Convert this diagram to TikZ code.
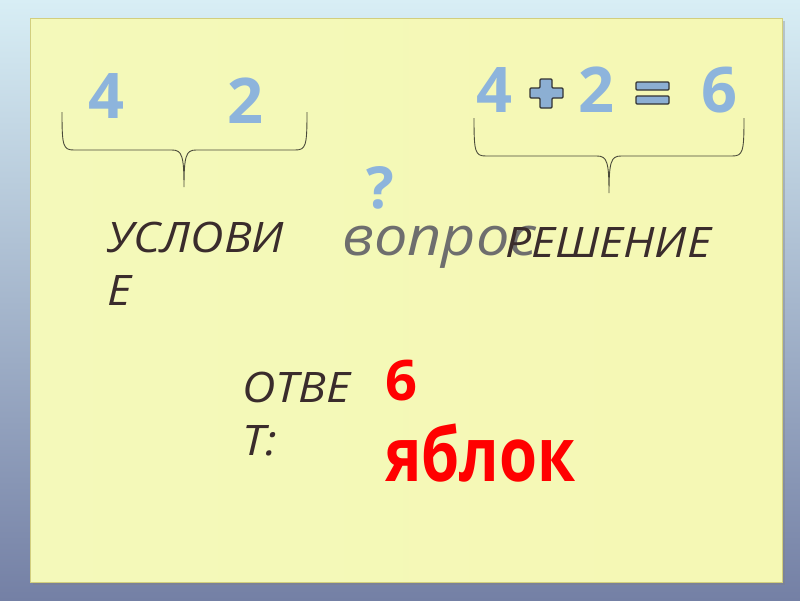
\documentclass[tikz,border=0pt]{standalone}
\usepackage{fontspec}
\setmainfont{Open Sans}
\newfontfamily\widefont[FakeStretch=1.1]{Open Sans}
\newfontfamily\narrowfont[FakeStretch=0.82]{Open Sans}
\usetikzlibrary{positioning}
\definecolor{digitblue}{RGB}{141,180,220}
\definecolor{inkbrown}{RGB}{58,44,44}
\definecolor{braceink}{RGB}{74,74,58}
\definecolor{askgray}{RGB}{110,110,110}
\definecolor{panelyellow}{RGB}{249,249,146}
\definecolor{panelleft}{RGB}{244,249,186}
\definecolor{panelright}{RGB}{245,248,180}
\definecolor{skytop}{RGB}{216,238,245}
\definecolor{skymid}{RGB}{180,212,226}
\definecolor{skybottom}{RGB}{116,128,165}
\tikzstyle{digit}=[inner sep=0pt, anchor=base, text=digitblue, font=\bfseries\fontsize{63}{63}\selectfont]
\tikzstyle{word}=[inner sep=0pt, anchor=base west, text=inkbrown, font=\widefont\itshape\fontsize{42}{42}\selectfont]
\tikzstyle{answer}=[inner sep=0pt, anchor=base west, text=red, font=\bfseries\fontsize{56}{56}\selectfont]
\tikzstyle{brace}=[draw=braceink, line width=0.9pt]
\tikzstyle{sign}=[fill=digitblue!90!gray, draw=black!80, line width=1.2pt, rounded corners=1pt]

\begin{document}
\begin{tikzpicture}[x=1pt,y=-1pt]
\useasboundingbox (0,0) rectangle (800,600);
\shade[top color=skytop, middle color=skymid, bottom color=skybottom] (0,0) rectangle (800,600);
% the yellow sheet
\fill[black!50, opacity=0.35] (33,21) rectangle (785,585);
\shade[left color=panelleft, middle color=panelyellow, right color=panelright, draw=olive!40] (30,18) rectangle (782,582);
% left group
\node[digit] (l4) at (106,118) {4};
\node[digit] (l2) at (245,123) {2};
\draw[brace] (62,112) .. controls (62,146) and (63,150) .. (74,150) -- (172,150) .. controls (182,150) and (184,156) .. (184,187) .. controls (184,156) and (186,150) .. (196,150) -- (295,150) .. controls (306,150) and (307,146) .. (307,112);
% right group, edit here for the numbers
\foreach \d/\x in {4/494,2/596,6/719}
\node[digit] (r\d) at (\x,112) {\d};
\draw[sign] (530,88) -- (540,88) -- (540,79) -- (552,79) -- (552,88) -- (563,88) -- (563,98) -- (552,98) -- (552,108) -- (540,108) -- (540,98) -- (530,98) -- cycle;
\draw[sign] (636,82) rectangle (669,90);
\draw[sign] (636,96) rectangle (669,104);
\draw[brace] (474,118) .. controls (474,152) and (475,156) .. (486,156) -- (597,156) .. controls (607,156) and (609,162) .. (609,193) .. controls (609,162) and (611,156) .. (621,156) -- (732,156) .. controls (743,156) and (744,152) .. (744,118);
% question
\node[digit, font=\bfseries\fontsize{58}{58}\selectfont] (ask) at (380,208) {?};
\node[word, text=askgray, font=\widefont\itshape\fontsize{54}{54}\selectfont] (vopros) at (342,255) {вопрос};
% captions
\node[word] (uslovie) at (107,252) {УСЛОВИ};
\node[word] (uslovie2) at ([yshift=-53pt]uslovie.base west) {Е};
\node[word] (reshenie) at (505,257) {РЕШЕНИЕ};
\node[word] (otvet) at (242,402) {ОТВЕ};
\node[word] (otvet2) at ([yshift=-53pt]otvet.base west) {Т:};
% answer
\node[answer] (six) at (385,400) {6};
\node[answer, font=\narrowfont\bfseries\fontsize{75}{75}\selectfont] (apples) at ([yshift=-81pt]six.base west) {яблок};
\end{tikzpicture}
\end{document}
